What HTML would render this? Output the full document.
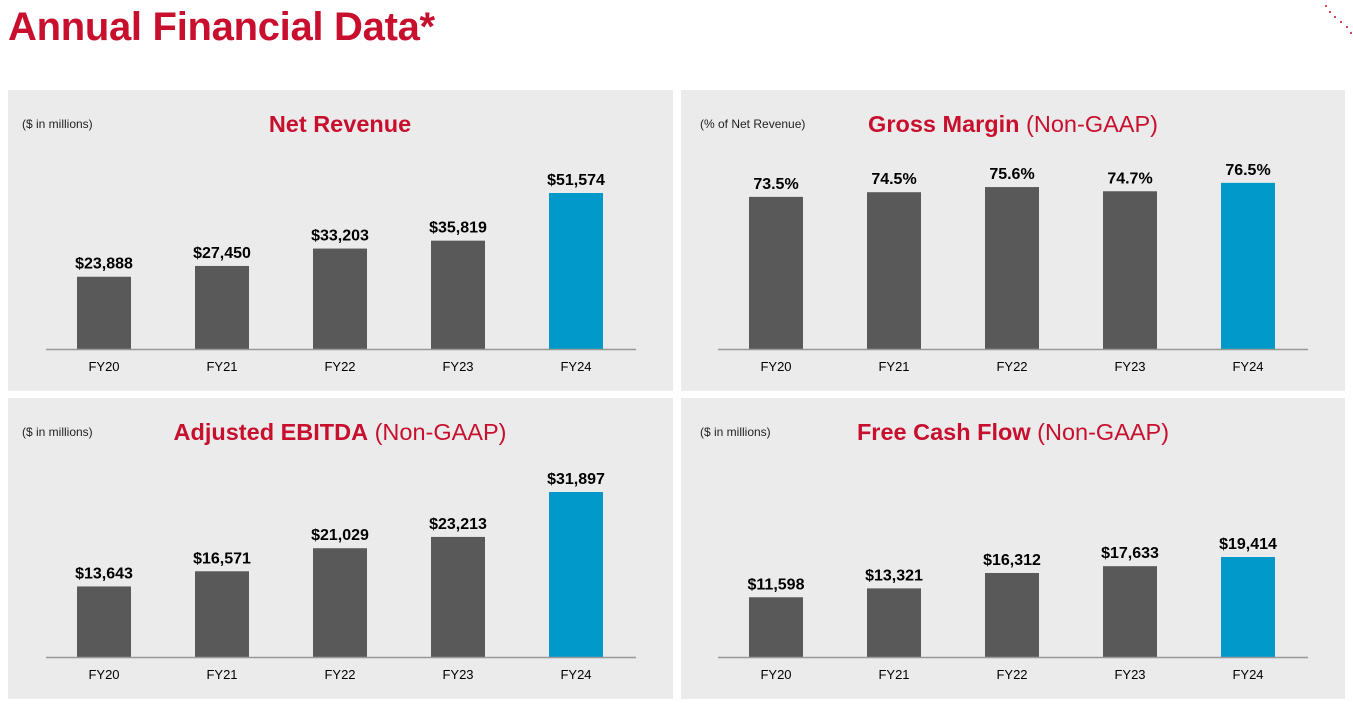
<!DOCTYPE html>
<html><head><meta charset="utf-8">
<style>
body{margin:0;width:1353px;height:706px;background:#fff;font-family:"Liberation Sans",Arial,sans-serif;position:relative;overflow:hidden}
h1{position:absolute;left:8px;top:5px;margin:0;font-size:40px;font-weight:bold;color:#c8102e;letter-spacing:-0.3px}
.panel{position:absolute;background:#ebebeb;width:665px;height:301px}
svg text{font-family:"Liberation Sans",Arial,sans-serif}
</style></head><body>
<h1>Annual Financial Data*</h1>
<svg style="position:absolute;left:1320px;top:0" width="33" height="40">
<g fill="#c8102e"><circle cx="6" cy="6" r="1"/><circle cx="10" cy="12" r="1"/><circle cx="15" cy="17" r="1"/><circle cx="21" cy="22" r="1"/><circle cx="27" cy="27" r="1"/><circle cx="31" cy="33" r="1"/></g></svg>
<div class="panel" style="left:8px;top:90px"></div>
<div class="panel" style="left:681px;top:90px;width:664px"></div>
<div class="panel" style="left:8px;top:398px"></div>
<div class="panel" style="left:681px;top:398px;width:664px"></div>
<svg id="chart" width="1353" height="706" style="position:absolute;left:0;top:0"></svg>
<script>
const categories=["FY20","FY21","FY22","FY23","FY24"];
const revenueValues=[23888,27450,33203,35819,51574];
const marginValues=[73.5,74.5,75.6,74.7,76.5];
const ebitdaValues=[13643,16571,21029,23213,31897];
const fcfValues=[11598,13321,16312,17633,19414];
const revenueLabels=["$23,888","$27,450","$33,203","$35,819","$51,574"];
const marginLabels=["73.5%","74.5%","75.6%","74.7%","76.5%"];
const ebitdaLabels=["$13,643","$16,571","$21,029","$23,213","$31,897"];
const fcfLabels=["$11,598","$13,321","$16,312","$17,633","$19,414"];

const svg=document.getElementById('chart');
const NS="http://www.w3.org/2000/svg";
function mk(tag,attrs,text){const e=document.createElementNS(NS,tag);for(const k in attrs)e.setAttribute(k,attrs[k]);if(text!==undefined)e.textContent=text;svg.appendChild(e);return e;}

function chart(key,x0,base,vals,labels,ppu,vmin,title,suffix,sub,titleX,subX){
  const step=118,first=x0+58;
  const xs=i=>first+i*step;
  const ys=v=>base-(v-vmin)*ppu;
  const st=mk('text',{x:subX,y:base-221,'font-size':12,fill:'#222'},sub);
  
  
  const t=mk('text',{x:titleX,y:base-217,'font-size':23.5,'font-weight':'bold',fill:'#c8102e','text-anchor':'middle'});
  
  
  t.textContent=title;
  if(suffix){const s=document.createElementNS(NS,'tspan');s.setAttribute('font-weight','normal');s.textContent=suffix;t.appendChild(s);}
  vals.forEach((v,i)=>{
    const y=ys(v);
    const r=mk('rect',{x:xs(i)-27,y:y,width:54,height:base-y,fill:i===vals.length-1?'#0099c9':'#595959'});
    
    
    const l=mk('text',{x:xs(i),y:y-8,'font-size':16,'font-weight':'bold',fill:'#000','text-anchor':'middle'},labels[i]);
    
    
    const c=mk('text',{x:xs(i),y:base+22,'font-size':13,fill:'#000','text-anchor':'middle'},categories[i]);
    
    
  });
  const a=mk('line',{x1:x0,x2:x0+590,y1:base+0.5,y2:base+0.5,stroke:'#999','stroke-width':1.5});
  
  
}
chart('net-revenue',46,349,revenueValues,revenueLabels,156/51574,0,'Net Revenue','','($ in millions)',340,22);
chart('gross-margin',718,349,marginValues,marginLabels,14/3,40.9,'Gross Margin',' (Non-GAAP)','(% of Net Revenue)',1013,700);
chart('ebitda',46,657,ebitdaValues,ebitdaLabels,165/31897,0,'Adjusted EBITDA',' (Non-GAAP)','($ in millions)',340,22);
chart('fcf',718,657,fcfValues,fcfLabels,100/19414,0,'Free Cash Flow',' (Non-GAAP)','($ in millions)',1013,700);
</script>
</body></html>
